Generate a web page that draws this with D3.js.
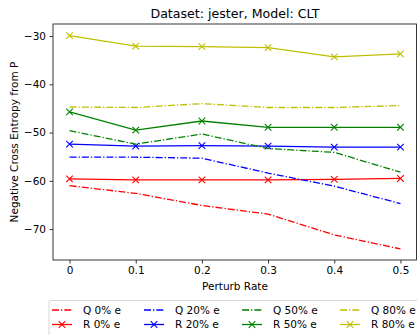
<!DOCTYPE html>
<html>
<head>
<meta charset="utf-8">
<script src="https://cdn.jsdelivr.net/npm/d3@7"></script>
<style>
  body { margin: 0; background: #fff; }
  text { font-family: "DejaVu Sans", sans-serif; fill: #000; }
</style>
</head>
<body>
<div id="chart"></div>
<script>
const rates = [0, 0.1, 0.2, 0.3, 0.4, 0.5]
const yTicks = [-30, -40, -50, -60, -70]

const q0 = [-61.0, -62.6, -65.1, -66.9, -71.2, -74.1]
const r0 = [-59.6, -59.8, -59.8, -59.8, -59.7, -59.5]
const q20 = [-55.1, -55.1, -55.3, -58.4, -61.1, -64.7]
const r20 = [-52.4, -52.8, -52.7, -52.8, -53.0, -53.0]
const q50 = [-49.6, -52.4, -50.3, -53.3, -54.1, -58.2]
const r50 = [-45.7, -49.5, -47.6, -48.9, -48.9, -48.9]
const q80 = [-44.7, -44.8, -44.0, -44.8, -44.8, -44.4]
const r80 = [-29.9, -32.1, -32.2, -32.4, -34.3, -33.7]

const series = [
    { name: "Q 0% e", values: q0, color: "#ff0000", kind: "Q" },
    { name: "R 0% e", values: r0, color: "#ff0000", kind: "R" },
    { name: "Q 20% e", values: q20, color: "#0000ff", kind: "Q" },
    { name: "R 20% e", values: r20, color: "#0000ff", kind: "R" },
    { name: "Q 50% e", values: q50, color: "#008000", kind: "Q" },
    { name: "R 50% e", values: r50, color: "#008000", kind: "R" },
    { name: "Q 80% e", values: q80, color: "#bfbf00", kind: "Q" },
    { name: "R 80% e", values: r80, color: "#bfbf00", kind: "R" }
]

const W = 417, H = 335
const margin = { left: 53, right: 0, top: 24, bottom: 75 }
const dash = "7,2,1.3,2"
const fs = 10.5

const xScale = d3.scaleLinear()
                 .domain([-0.025, 0.525])
                 .range([margin.left, W - margin.right])

const yScale = d3.scaleLinear()
                 .domain([-76.4, -27.5])
                 .range([H - margin.bottom, margin.top])

const svg = d3.select("#chart")
              .append("svg")
              .attr("width", W)
              .attr("height", H)

const xAxis = d3.axisBottom(xScale)
                .tickValues(rates)
                .tickFormat(d => d === 0 ? "0" : d3.format(".1f")(d))
                .tickSizeOuter(0)
                .tickSize(3.5)
                .tickPadding(3.5)

const yAxis = d3.axisLeft(yScale)
                .tickValues(yTicks)
                .tickFormat(d => "\u2212" + Math.abs(d))
                .tickSizeOuter(0)
                .tickSize(3.5)
                .tickPadding(3.5)

const gx = svg.append("g")
   .attr("transform", `translate(0, ${H - margin.bottom})`)
   .call(xAxis)
gx.select(".domain").remove()
gx.selectAll("text").attr("font-size", fs)

const gy = svg.append("g")
   .attr("transform", `translate(${margin.left}, 0)`)
   .call(yAxis)
gy.select(".domain").remove()
gy.selectAll("text").attr("font-size", fs)

svg.selectAll(".tick line").attr("stroke", "#000").attr("stroke-width", 0.8)

svg.append("clipPath").attr("id", "clip")
   .append("rect")
   .attr("x", margin.left).attr("y", margin.top)
   .attr("width", W - margin.right - margin.left)
   .attr("height", H - margin.bottom - margin.top)

const line = d3.line()
               .x((d, i) => xScale(rates[i]))
               .y(d => yScale(d))

const plot = svg.append("g").attr("clip-path", "url(#clip)")

function drawX(g, x, y, color, s) {
    g.append("path")
     .attr("d", `M${x - s},${y - s}L${x + s},${y + s}M${x - s},${y + s}L${x + s},${y - s}`)
     .attr("stroke", color)
     .attr("stroke-width", 1.1)
     .attr("fill", "none")
}

series.forEach(s => {
    plot.append("path")
        .datum(s.values)
        .attr("d", line)
        .attr("fill", "none")
        .attr("stroke", s.color)
        .attr("stroke-width", 1.3)
        .attr("stroke-dasharray", s.kind === "Q" ? dash : null)
    if (s.kind === "R") {
        s.values.forEach((v, i) => drawX(plot, xScale(rates[i]), yScale(v), s.color, 3.3))
    }
})

svg.append("rect")
   .attr("x", margin.left)
   .attr("y", margin.top)
   .attr("width", W - margin.right - margin.left - 0.5)
   .attr("height", H - margin.bottom - margin.top)
   .attr("fill", "none")
   .attr("stroke", "#222")
   .attr("stroke-width", 0.9)

svg.append("text")
   .attr("x", (margin.left + W) / 2)
   .attr("y", 18)
   .attr("text-anchor", "middle")
   .attr("font-size", 12.6)
   .text("Dataset: jester, Model: CLT")

svg.append("text")
   .attr("x", (margin.left + W) / 2)
   .attr("y", 290)
   .attr("text-anchor", "middle")
   .attr("font-size", fs)
   .text("Perturb Rate")

svg.append("text")
   .attr("transform", `translate(14, ${(margin.top + H - margin.bottom) / 2}) rotate(-90)`)
   .attr("text-anchor", "middle")
   .attr("dy", "0.35em")
   .attr("font-size", fs)
   .text("Negative Cross Entropy from P")

// legend
const legend = svg.append("g")
legend.append("rect")
      .attr("x", 49)
      .attr("y", 300.5)
      .attr("width", 380)
      .attr("height", 40)
      .attr("rx", 2)
      .attr("fill", "#fff")
      .attr("stroke", "#ccc")
      .attr("stroke-width", 0.8)

const colX = [52, 144, 242, 340]
const rowY = [310, 324.5]
series.forEach((s, i) => {
    const col = Math.floor(i / 2), row = i % 2
    const x0 = colX[col], y0 = rowY[row]
    legend.append("line")
          .attr("x1", x0).attr("x2", x0 + 20)
          .attr("y1", y0).attr("y2", y0)
          .attr("stroke", s.color)
          .attr("stroke-width", 1.3)
          .attr("stroke-dasharray", s.kind === "Q" ? dash : null)
    if (s.kind === "R") drawX(legend, x0 + 10, y0, s.color, 3.3)
    legend.append("text")
          .attr("x", x0 + 31)
          .attr("y", y0)
          .attr("dy", "0.35em")
          .attr("font-size", fs)
          .text(s.name)
})
</script>
</body>
</html>
